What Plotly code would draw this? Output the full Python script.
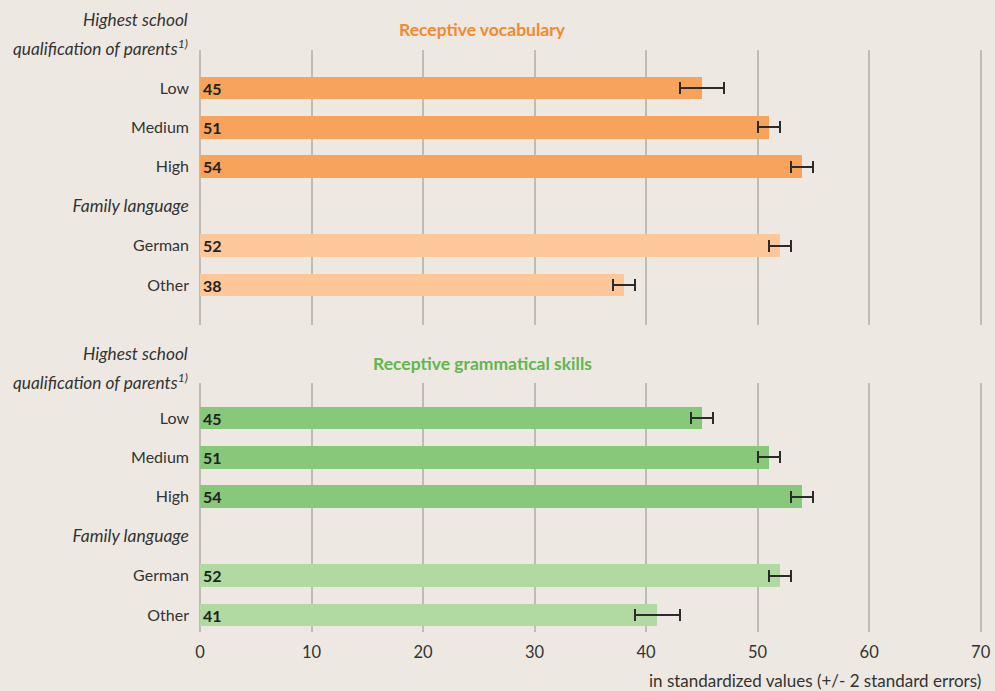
import plotly.graph_objects as go
from plotly.subplots import make_subplots

# ---- data ----
qual_categories = ["Low", "Medium", "High"]
lang_categories = ["German", "Other"]

vocab_qual_values = [45, 51, 54]
vocab_qual_errors = [2, 1, 1]
vocab_lang_values = [52, 38]
vocab_lang_errors = [1, 1]

gram_qual_values = [45, 51, 54]
gram_qual_errors = [1, 1, 1]
gram_lang_values = [52, 41]
gram_lang_errors = [1, 2]

x_ticks = [0, 10, 20, 30, 40, 50, 60, 70]

# ---- style ----
BG = "#ede9e2"
GRID = "#bfbcb6"
TXT = "#333333"
FONT = "Lato"
ORANGE, ORANGE_L, ORANGE_T = "#f7a35c", "#fdc79a", "#f6882a"
GREEN, GREEN_L, GREEN_T = "#88c87a", "#b1daa3", "#62b64e"

# row positions: qualification rows, a header gap row, then language rows
qual_pos = list(range(len(qual_categories)))
header_pos = len(qual_categories)
lang_pos = [header_pos + 1 + i for i in range(len(lang_categories))]
tickvals = qual_pos + [header_pos] + lang_pos
ticktext = qual_categories + ['<span style="font-size:17.5px"><i>Family language</i></span>'] + lang_categories

fig = make_subplots(rows=2, cols=1, shared_xaxes=True)

def add_panel(row, qv, qe, lv, le, dark, light):
    vals = qv + lv
    errs = qe + le
    pos = qual_pos + lang_pos
    colors = [dark] * len(qv) + [light] * len(lv)
    fig.add_trace(go.Bar(
        x=vals, y=pos, orientation="h", width=0.58,
        marker=dict(color=colors, line=dict(width=0)),
        error_x=dict(type="data", array=errs, visible=True,
                     color="#2b2b2b", thickness=2, width=6),
        text=[str(v) for v in vals], textposition="inside",
        insidetextanchor="start", textangle=0, constraintext="none",
        textfont=dict(family=FONT, size=16, color="#222222", weight="bold"),
        hoverinfo="skip", showlegend=False,
    ), row=row, col=1)

add_panel(1, vocab_qual_values, vocab_qual_errors, vocab_lang_values, vocab_lang_errors, ORANGE, ORANGE_L)
add_panel(2, gram_qual_values, gram_qual_errors, gram_lang_values, gram_lang_errors, GREEN, GREEN_L)

W, H = 995, 691
x0_px, x70_px = 200, 981          # pixel positions of 0 and 70 in the reference
x_max, pad = 70, 0.3
ppu = (x70_px - x0_px) / x_max
left = x0_px
right = x70_px + pad * ppu
top, bottom = 50, 632
plot_h = bottom - top
plot_w = right - left
def fy(py):
    return (bottom - py) / plot_h
def fx(px):
    return (px - left) / plot_w

fig.update_layout(
    width=W, height=H, paper_bgcolor=BG, plot_bgcolor=BG,
    margin=dict(l=left, r=W - right, t=top, b=H - bottom, autoexpand=False),
    font=dict(family=FONT, size=16, color=TXT),
    bargap=0,
)

xcommon = dict(range=[0, x_max + pad], tickvals=x_ticks, showgrid=True, gridcolor=GRID,
               gridwidth=2, zeroline=True, zerolinecolor=GRID, zerolinewidth=2,
               showline=False, ticks="", fixedrange=True, automargin=False)
fig.update_xaxes(**xcommon)
fig.update_xaxes(showticklabels=False, row=1, col=1)
fig.update_xaxes(showticklabels=True, tickfont=dict(size=16.5, color=TXT), ticklabelstandoff=8, row=2, col=1)

step = 39.4
ycommon = dict(tickvals=tickvals, ticktext=ticktext, showgrid=False, zeroline=False,
               showline=False, ticks="", ticklabelstandoff=10, automargin=False,
               tickfont=dict(size=16, color=TXT), fixedrange=True)
fig.update_yaxes(**ycommon)
fig.update_yaxes(range=[5 + 40 / step, -38 / step], domain=[fy(325), 1.0], row=1, col=1)
fig.update_yaxes(range=[5 + 17 / step, -35 / step], domain=[0.0, fy(383)], row=2, col=1)

def ann(text, xpx, ypx, anchor="right", color=TXT, size=16, bold=False):
    fig.add_annotation(
        text=f"<b>{text}</b>" if bold else text,
        xref="paper", yref="paper",
        x=fx(xpx), y=fy(ypx),
        xanchor=anchor, yanchor="middle", showarrow=False,
        font=dict(family=FONT, size=size, color=color),
    )

for y1, y2 in [(20, 47), (354, 381)]:
    ann("<i>Highest school</i>", 190, y1, size=17.3)
    ann("<i>qualification of parents<sup>1)</sup></i>", 190, y2, size=17.3)

ann("Receptive vocabulary", 483, 30, anchor="center", color=ORANGE_T, size=17.5, bold=True)
ann("Receptive grammatical skills", 483, 363, anchor="center", color=GREEN_T, size=17.5, bold=True)
ann("in standardized values (+/- 2 standard errors)", 983, 680, size=17)

fig.write_html(
    "out.html",
    config={"displayModeBar": False, "staticPlot": True},
    post_script=f"document.body.style.margin='0';document.body.style.background='{BG}';",
)
